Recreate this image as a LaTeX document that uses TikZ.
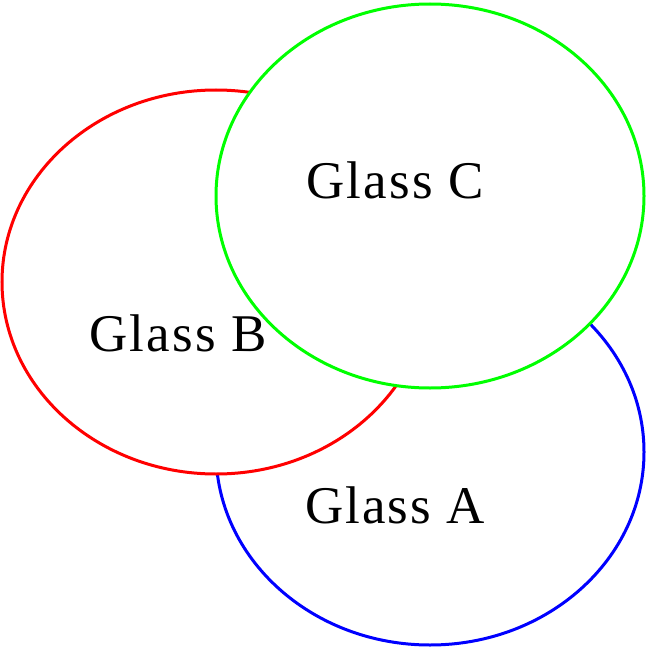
\documentclass[tikz,border=0pt]{standalone}
\usepackage{fontspec}
\setmainfont{Liberation Serif}[LetterSpace=4]
\begin{document}
\begin{tikzpicture}[x=1pt,y=-1pt,
  ring/.style={fill=white,line width=3pt},
  lbl/.style={font=\fontsize{53}{53}\selectfont,inner sep=0pt}]
\useasboundingbox (0,0) rectangle (650,650);
\draw[ring,draw=blue] (430,452) ellipse [x radius=214,y radius=193];
\draw[ring,draw=red] (216,282) ellipse [x radius=214,y radius=192];
\draw[ring,draw=green] (430,196) ellipse [x radius=214,y radius=192];
\node[lbl] (c) at (395,180) {Glass C};
\node[lbl] (b) at (178,333) {Glass B};
\node[lbl] (a) at (395,505) {Glass A};
\end{tikzpicture}
\end{document}
